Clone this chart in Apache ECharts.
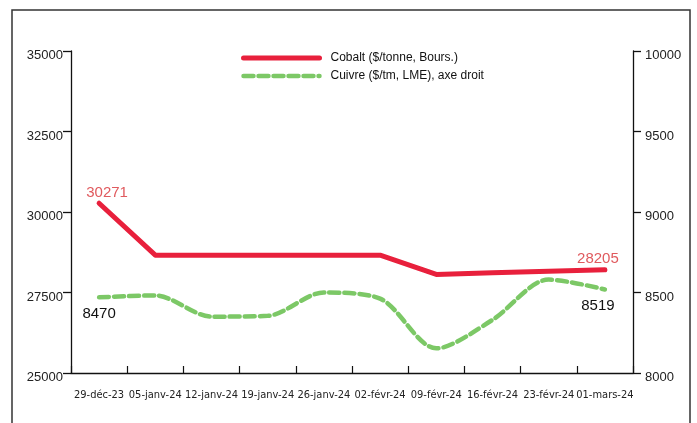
<!DOCTYPE html>
<html><head><meta charset="utf-8">
<script src="https://cdn.jsdelivr.net/npm/echarts@6/dist/echarts.min.js"></script>
<style>html,body{margin:0;padding:0;background:#fff}#c{width:697px;height:423px}</style>
</head><body><div id="c"></div>
<script>
const categories = ['29-déc-23','05-janv-24','12-janv-24','19-janv-24','26-janv-24','02-févr-24','09-févr-24','16-févr-24','23-févr-24','01-mars-24'];
const cobalt = [30271, 28660, 28660, 28660, 28660, 28660, 28060, 28110, 28160, 28205];
const cuivre = [8470, 8482, 8350, 8355, 8500, 8462, 8153, 8330, 8580, 8519];
const leftTicks = {min: 25000, max: 35000, interval: 2500};
const rightTicks = {min: 8000, max: 10000, interval: 500};
const names = ['Cobalt ($/tonne, Bours.)', 'Cuivre ($/tm, LME), axe droit'];

const narrow = '"DejaVu Sans Condensed", "Liberation Sans Narrow", "Liberation Sans", Arial, sans-serif';
const sans = '"Liberation Sans", Arial, sans-serif';

function withEndLabels(arr, color, pos) {
  return arr.map((v, i) => {
    if (i === 0 || i === arr.length - 1) {
      return {value: v, label: {
        show: true, position: pos, color: color, fontSize: 15, fontFamily: sans,
        distance: pos === 'top' ? 3 : 9,
        offset: [i === 0 ? (pos === 'top' ? 8 : 0) : -7, 0]
      }};
    }
    return v;
  });
}

const chart = echarts.init(document.getElementById('c'), null, {renderer: 'canvas'});
chart.setOption({
  animation: false,
  backgroundColor: '#fff',
  graphic: [{
    type: 'rect', shape: {x: 12, y: 10, width: 678, height: 440},
    style: {fill: 'none', stroke: '#333', lineWidth: 1.5}, silent: true, z: -1
  }],
  grid: {left: 71, right: 64, top: 51, bottom: 50},
  legend: {
    orient: 'vertical', left: 236, top: 47, itemWidth: 76, itemHeight: 12, itemGap: 6,
    itemStyle: {opacity: 0},
    textStyle: {fontFamily: sans, fontSize: 12, color: '#111', padding: [0, 0, 0, 6]},
    data: [
      {name: names[0], lineStyle: {width: 5}},
      {name: names[1], lineStyle: {width: 4.5}}
    ]
  },
  xAxis: {
    type: 'category', data: categories, boundaryGap: true,
    axisLine: {lineStyle: {color: '#111', width: 1.3}},
    axisTick: {show: true, inside: true, length: 7, lineStyle: {color: '#111', width: 1.2}},
    axisLabel: {fontFamily: narrow, fontSize: 11, color: '#222', margin: 17, interval: 0}
  },
  yAxis: [{
    type: 'value', min: leftTicks.min, max: leftTicks.max, interval: leftTicks.interval, position: 'left',
    axisLine: {show: true, lineStyle: {color: '#111', width: 1.3}},
    axisTick: {show: true, length: 8, lineStyle: {color: '#111', width: 1.3}},
    splitLine: {show: false},
    axisLabel: {fontFamily: sans, fontSize: 13, color: '#222', margin: 8, verticalAlign: 'top', lineHeight: 9, formatter: v => String(v)}
  }, {
    type: 'value', min: rightTicks.min, max: rightTicks.max, interval: rightTicks.interval, position: 'right',
    axisLine: {show: true, lineStyle: {color: '#111', width: 1.3}},
    axisTick: {show: true, length: 8, lineStyle: {color: '#111', width: 1.3}},
    splitLine: {show: false},
    axisLabel: {fontFamily: sans, fontSize: 13, color: '#222', margin: 12, verticalAlign: 'top', lineHeight: 9, formatter: v => String(v)}
  }],
  series: [{
    name: names[0], type: 'line', yAxisIndex: 0, symbol: 'circle', symbolSize: 0, showSymbol: true,
    data: withEndLabels(cobalt, '#e05a5e', 'top'),
    lineStyle: {color: '#e8203c', width: 5, cap: 'round', join: 'round'},
    itemStyle: {color: '#e8203c'}
  }, {
    name: names[1], type: 'line', yAxisIndex: 1, symbol: 'circle', symbolSize: 0, showSymbol: true, smooth: 0.3,
    data: withEndLabels(cuivre, '#111', 'bottom'),
    lineStyle: {color: '#7cc866', width: 4.5, type: [10, 5], cap: 'round'},
    itemStyle: {color: '#7cc866'}
  }]
});
</script>
</body></html>
